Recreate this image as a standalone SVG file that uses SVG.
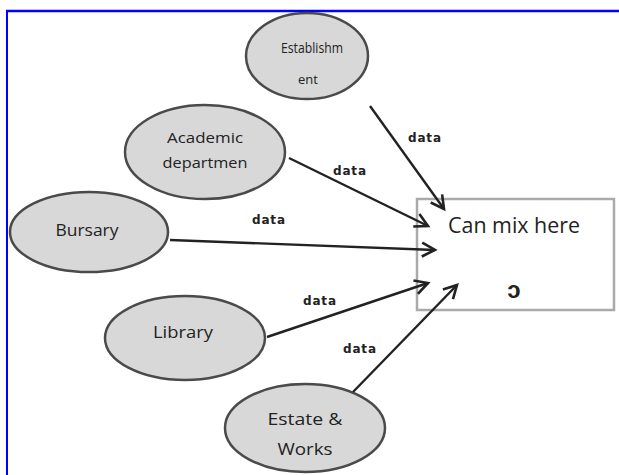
<svg xmlns="http://www.w3.org/2000/svg" width="619" height="475" viewBox="0 0 619 475">
<style>
.node ellipse{fill:#d8d8d8;stroke:#4a4a4a;stroke-width:2.5}
.lbl{font-family:"Open Sans","Liberation Sans",sans-serif;fill:#222;text-anchor:middle}
.data{font-family:"DejaVu Sans","Liberation Sans",sans-serif;font-size:12px;fill:#222;font-weight:bold}
.conn line{stroke:#222;stroke-width:2.4;marker-end:url(#arr)}
</style>
<defs>
<marker id="arr" markerWidth="18" markerHeight="18" viewBox="0 0 18 18" refX="15" refY="9" orient="auto" markerUnits="userSpaceOnUse">
<path d="M2,2 L15,9 L2,16" fill="none" stroke="#222" stroke-width="2.6"/>
</marker>
</defs>
<rect width="619" height="475" fill="#fff"/>
<line x1="6" y1="11" x2="619" y2="11" stroke="#0000ff" stroke-width="2.5"/>
<line x1="7" y1="10" x2="7" y2="475" stroke="#0000ff" stroke-width="2"/>
<g id="box">
<rect x="417" y="199" width="197" height="111" fill="#fff" stroke="#aaa" stroke-width="2.5"/>
<text class="lbl" x="514" y="233" font-size="21" textLength="132" lengthAdjust="spacingAndGlyphs">Can mix here</text>
<text class="lbl" x="514" y="298" font-size="24" font-weight="bold">ɔ</text>
</g>
<g id="establishment" class="node">
<ellipse cx="307" cy="56" rx="61" ry="43"/>
<text class="lbl" x="312" y="53" font-size="15" textLength="62" lengthAdjust="spacingAndGlyphs">Establishm</text>
<text class="lbl" x="308" y="84" font-size="13">ent</text>
</g>
<g id="academic" class="node">
<ellipse cx="205" cy="152" rx="80" ry="47"/>
<text class="lbl" x="205" y="143" font-size="15" textLength="76" lengthAdjust="spacingAndGlyphs">Academic</text>
<text class="lbl" x="205" y="168" font-size="15" textLength="85" lengthAdjust="spacingAndGlyphs">departmen</text>
</g>
<g id="bursary" class="node">
<ellipse cx="89" cy="232" rx="79" ry="40"/>
<text class="lbl" x="87" y="236" font-size="17" textLength="63" lengthAdjust="spacingAndGlyphs">Bursary</text>
</g>
<g id="library" class="node">
<ellipse cx="185" cy="338" rx="80" ry="42"/>
<text class="lbl" x="183" y="338" font-size="17" textLength="60" lengthAdjust="spacingAndGlyphs">Library</text>
</g>
<g id="estate" class="node">
<ellipse cx="305" cy="428" rx="80" ry="44"/>
<text class="lbl" x="305" y="425" font-size="17" textLength="75" lengthAdjust="spacingAndGlyphs">Estate &amp;</text>
<text class="lbl" x="305" y="455" font-size="17" textLength="55" lengthAdjust="spacingAndGlyphs">Works</text>
</g>
<g id="connectors" class="conn">
<line x1="370" y1="106" x2="444" y2="209"/>
<line x1="289" y1="158" x2="428" y2="226"/>
<line x1="170" y1="240" x2="435" y2="250"/>
<line x1="267" y1="337" x2="428" y2="283"/>
<line x1="353" y1="392" x2="457" y2="285"/>
<text class="data" x="408" y="142" textLength="33">data</text>
<text class="data" x="333" y="175" textLength="33">data</text>
<text class="data" x="252" y="224" textLength="33">data</text>
<text class="data" x="303" y="305" textLength="33">data</text>
<text class="data" x="343" y="353" textLength="33">data</text>
</g>
</svg>
